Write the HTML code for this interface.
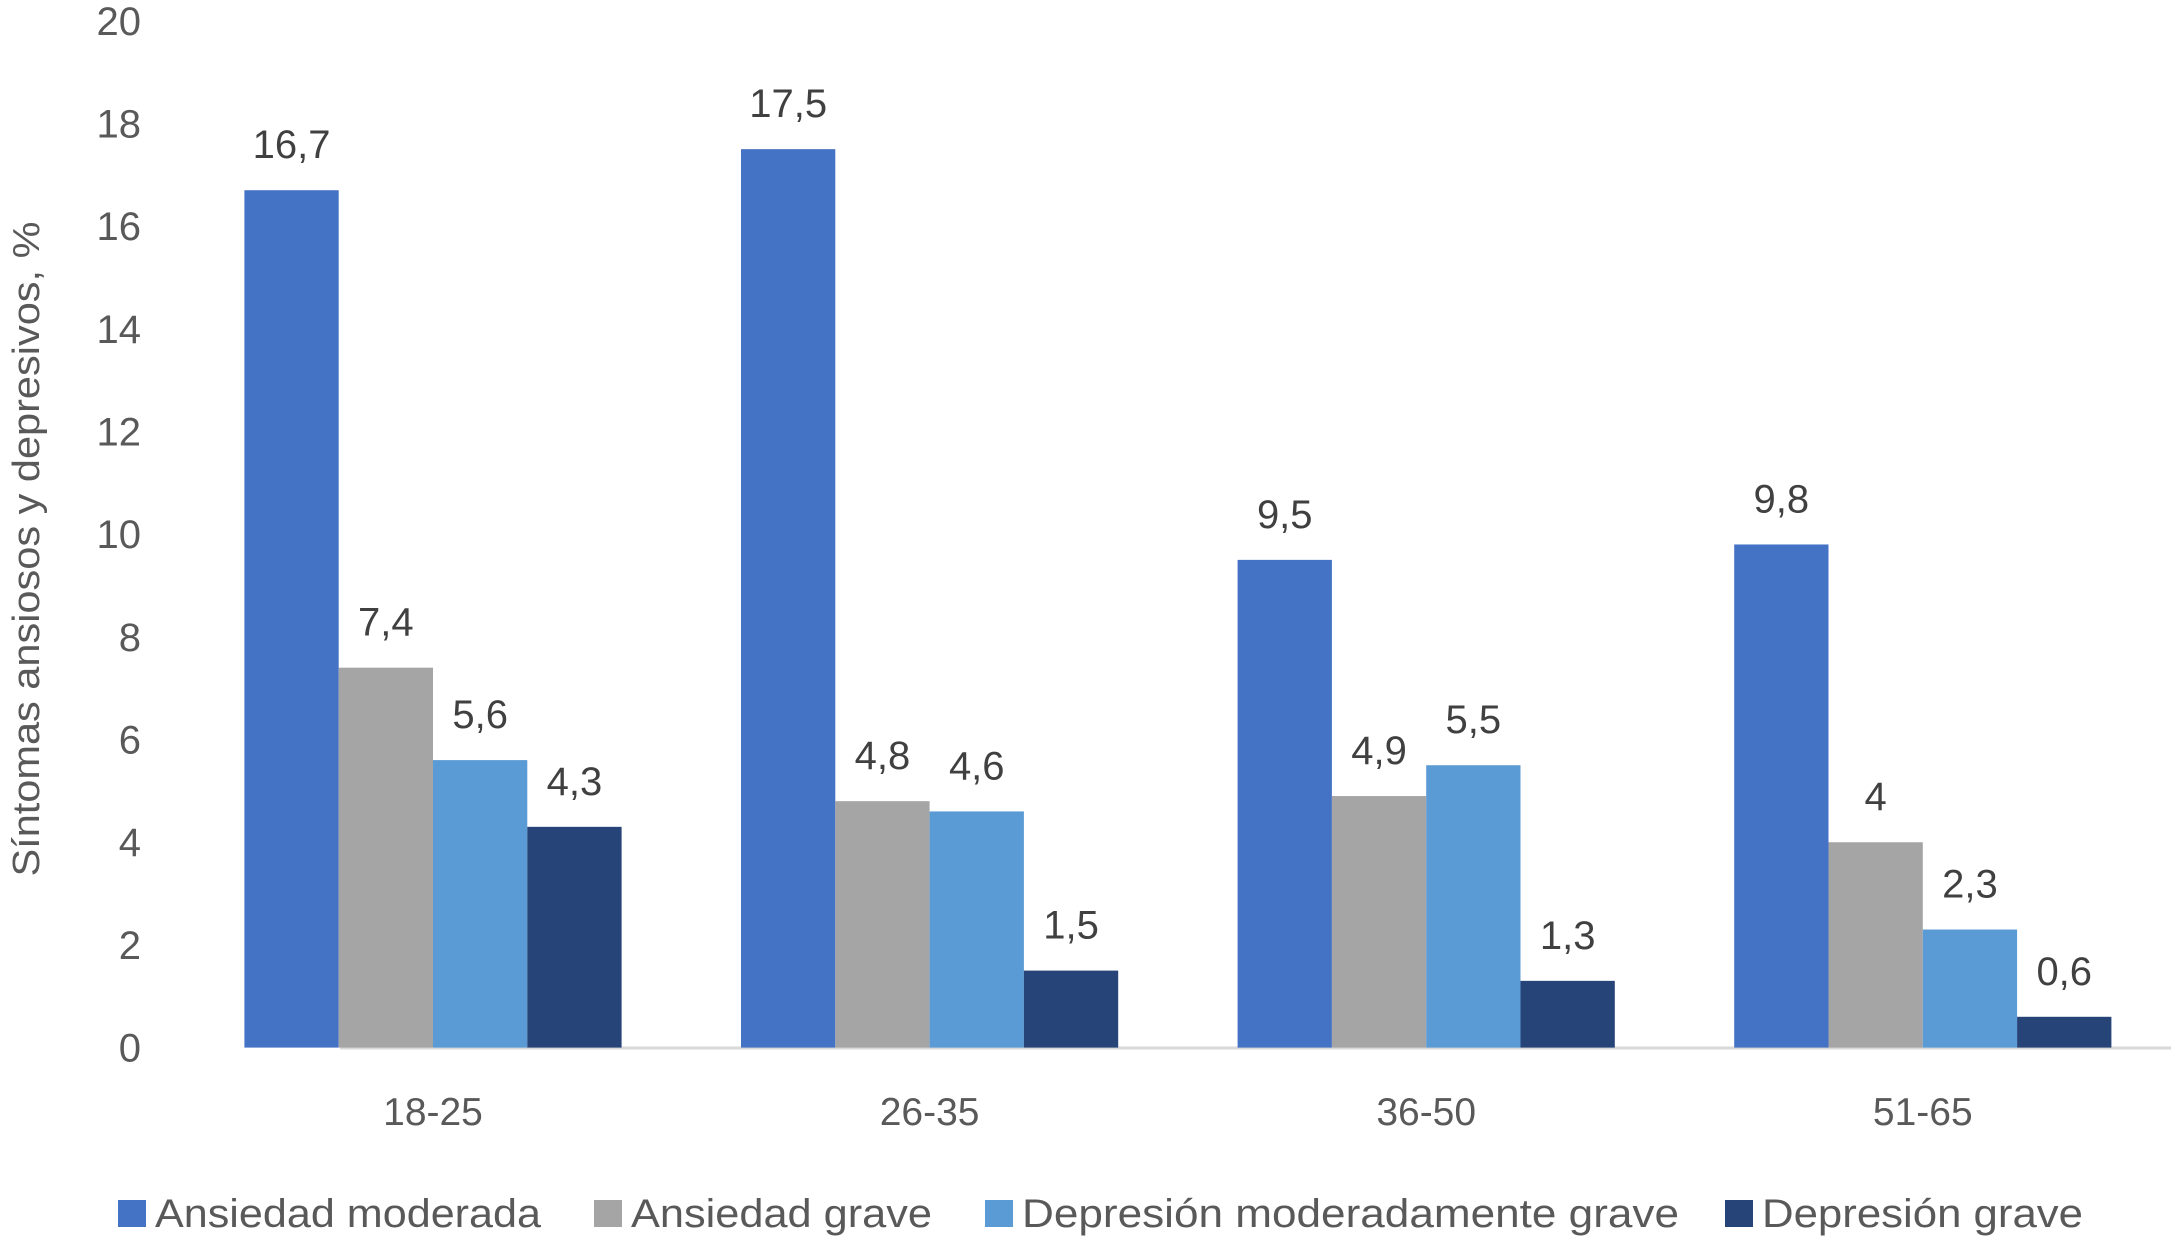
<!DOCTYPE html>
<html><head><meta charset="utf-8"><style>
html,body{margin:0;padding:0;background:#fff;}
svg{display:block;font-family:"Liberation Sans",sans-serif;}
</style></head><body>
<svg id="chart" width="2175" height="1241" viewBox="0 0 2175 1241" xmlns="http://www.w3.org/2000/svg">
<rect width="2175" height="1241" fill="#fff"/>
<text transform="translate(39,549) rotate(-90)" text-anchor="middle" font-size="38" fill="#595959" textLength="655" lengthAdjust="spacingAndGlyphs">Síntomas ansiosos y depresivos, %</text>
<g id="yticks"></g>
<line x1="340" x2="2171" y1="1048" y2="1048" stroke="#d9d9d9" stroke-width="3"/>
<g id="bars"></g>
<g id="labels"></g>
<g id="xlabels"></g>
<g id="legend"></g>
</svg>
<script>
const categories = ["18-25","26-35","36-50","51-65"];
const seriesNames = ["Ansiedad moderada","Ansiedad grave","Depresión moderadamente grave","Depresión grave"];
const ansiedadModerada = [16.7,17.5,9.5,9.8];
const ansiedadGrave = [7.4,4.8,4.9,4.0];
const depresionModerada = [5.6,4.6,5.5,2.3];
const depresionGrave = [4.3,1.5,1.3,0.6];
const yTicks = [0,2,4,6,8,10,12,14,16,18,20];
const colors = ["#4472c4","#a5a5a5","#5b9bd5","#264478"];
const series = [ansiedadModerada,ansiedadGrave,depresionModerada,depresionGrave];
const NS="http://www.w3.org/2000/svg";
const y0=1047.6, pxPerUnit=51.34;
function yScale(v){return y0 - v*pxPerUnit;}
const groupCenter0=433, groupStep=496.6, barW=94.3;
function xCenter(i){return groupCenter0 + i*groupStep;}
function mk(tag,attrs,parent,text){const e=document.createElementNS(NS,tag);for(const k in attrs)e.setAttribute(k,attrs[k]);if(text!==undefined)e.textContent=text;parent.appendChild(e);return e;}
const yt=document.getElementById('yticks');
yTicks.forEach(t=>{
  const e=mk('text',{x:141,y:yScale(t)+14,'text-anchor':'end','font-size':40,fill:'#595959'},yt,String(t));
  
  
});
const bg=document.getElementById('bars'), lg=document.getElementById('labels'), xg=document.getElementById('xlabels');
categories.forEach((c,i)=>{
  series.forEach((s,j)=>{
    const x=xCenter(i)-2*barW+j*barW;
    const r=mk('rect',{x:x,y:yScale(s[i]),width:barW,height:y0-yScale(s[i]),fill:colors[j]},bg);
    
    
    const t=mk('text',{x:x+barW/2,y:yScale(s[i])-32,'text-anchor':'middle','font-size':40,fill:'#404040'},lg,String(s[i]).replace('.',','));
    
    
  });
  const xl=mk('text',{x:xCenter(i),y:1125,'text-anchor':'middle','font-size':39,fill:'#595959'},xg,c);
  
  
});
const legend=document.getElementById('legend');
const legX=[118,594,985,1725], legW=[386,301,657,321];
seriesNames.forEach((n,j)=>{
  const g=mk('g',{},legend);
  
  
  mk('rect',{x:legX[j],y:1200,width:28,height:27,fill:colors[j]},g);
  mk('text',{x:legX[j]+37,y:1227,'font-size':40,fill:'#595959',textLength:legW[j],lengthAdjust:'spacingAndGlyphs'},g,n);
});
</script>
</body></html>
